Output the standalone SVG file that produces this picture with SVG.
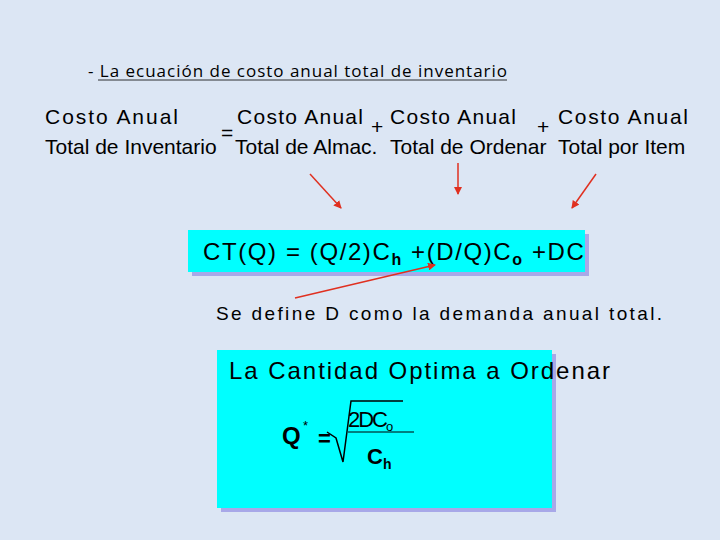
<svg xmlns="http://www.w3.org/2000/svg" width="720" height="540" viewBox="0 0 720 540">
<style>
text{font-family:"Liberation Sans",Arial,sans-serif;fill:#000}
.h{font-size:21px}
.a{stroke:#e03020;stroke-width:1.5;fill:none}
</style>
<defs><marker id="ar" markerWidth="8" markerHeight="8" refX="7" refY="4" orient="auto" markerUnits="userSpaceOnUse"><path d="M0,0L8,4L0,8z" fill="#e03020"/></marker></defs>
<rect width="720" height="540" fill="#dce6f4"/>
<text x="88" y="77" textLength="419" style="font-family:'Open Sans',sans-serif;font-size:17px">- La ecuación de costo anual total de inventario</text>
<line x1="98" y1="80" x2="507" y2="80" stroke="#000" stroke-width="0.8"/>
<g id="header">
<text x="45" y="124" class="h" textLength="133">Costo Anual</text>
<text x="45" y="154" class="h">Total de Inventario</text>
<text x="221" y="140" class="h">=</text>
<text x="237" y="124" class="h" textLength="126">Costo Anual</text>
<text x="235" y="154" class="h">Total de Almac.</text>
<text x="371" y="134" class="h">+</text>
<text x="390" y="124" class="h" textLength="126">Costo Anual</text>
<text x="390" y="154" class="h">Total de Ordenar</text>
<text x="537" y="134" class="h">+</text>
<text x="558" y="124" class="h" textLength="130">Costo Anual</text>
<text x="558" y="154" class="h">Total por Item</text>
</g>
<g id="formula">
<rect x="192" y="234" width="397" height="42" fill="#a8a8e8"/>
<rect x="188" y="230" width="397" height="42" fill="#00ffff"/>
<text x="203" y="260" style="font-size:24px;letter-spacing:1.6px">CT(Q)  = (Q/2)C<tspan font-weight="bold" font-size="16" dy="5">h</tspan><tspan dy="-5"> +(D/Q)C</tspan><tspan font-weight="bold" font-size="16" dy="5">o</tspan><tspan dy="-5"> +DC</tspan></text>
</g>
<text x="216" y="320" textLength="446" style="font-size:19px">Se define D como la demanda anual total.</text>
<g id="optima">
<rect x="221" y="354" width="335" height="158" fill="#a8a8e8"/>
<rect x="217" y="350" width="335" height="158" fill="#00ffff"/>
<text x="229" y="379" textLength="381" style="font-size:24px">La Cantidad Optima a Ordenar</text>
<text x="282" y="444" style="font-size:24px;font-weight:bold">Q</text>
<text x="303" y="430" style="font-size:13px">*</text>
<text x="318" y="446" style="font-size:22px;font-weight:bold">=</text>
<path d="M327,432 L336,438 L343,462 L351,401 L403,401" stroke="#000" stroke-width="1.5" fill="none"/>
<line x1="348" y1="432" x2="414" y2="432" stroke="#000" stroke-width="1"/>
<text x="348" y="427" style="font-size:22px;letter-spacing:-2px">2DC<tspan font-size="13" dy="4">o</tspan></text>
<text x="367" y="464" style="font-size:22px;font-weight:bold">C<tspan font-size="14" dy="5">h</tspan></text>
</g>
<g id="connectors">
<line class="a" x1="310" y1="174" x2="341" y2="208" marker-end="url(#ar)"/>
<line class="a" x1="458" y1="163" x2="458" y2="194" marker-end="url(#ar)"/>
<line class="a" x1="596" y1="174" x2="572" y2="208" marker-end="url(#ar)"/>
<line class="a" x1="295" y1="298" x2="435" y2="265" marker-end="url(#ar)"/>
</g>
</svg>
